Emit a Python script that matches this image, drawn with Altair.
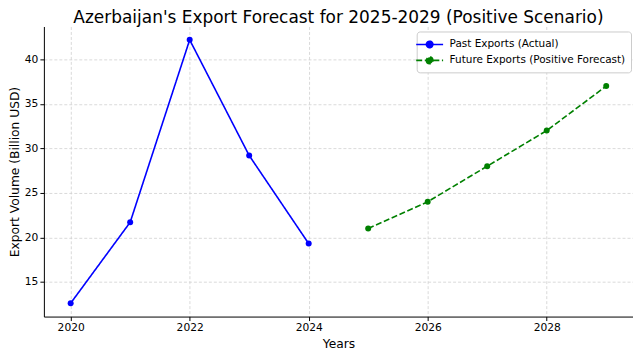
import altair as alt
import pandas as pd

past_years = [2020, 2021, 2022, 2023, 2024]
past_values = [12.6, 21.7, 42.2, 29.2, 19.3]
future_years = [2025, 2026, 2027, 2028, 2029]
future_values = [21.0, 24.0, 28.0, 32.0, 37.0]
series_names = ["Past Exports (Actual)", "Future Exports (Positive Forecast)"]
series_colors = ["#0000ff", "#008000"]
series_dashes = [[1, 0], [6, 2.6]]
x_ticks = [2020, 2022, 2024, 2026, 2028]
y_ticks = [15, 20, 25, 30, 35, 40]

df = pd.DataFrame({
    "Year": past_years + future_years,
    "Value": past_values + future_values,
    "Series": [series_names[0]] * len(past_years) + [series_names[1]] * len(future_years),
})

FONT = "DejaVu Sans"
symbol_path = "M-2,0L2,0M-0.48,0A0.48,0.48,0,1,0,0.48,0A0.48,0.48,0,1,0,-0.48,0Z"

legend = alt.Legend(
    title=None, orient="none", legendX=374, legendY=5,
    fillColor="white", strokeColor="#cccccc", cornerRadius=3, padding=5,
    labelFont=FONT, labelFontSize=10.5, labelColor="black", labelOffset=12,
    labelLimit=400,
    symbolType=symbol_path, symbolSize=182, symbolStrokeWidth=1.6,
    rowPadding=1,
)

x = alt.X("Year:Q", title="Years",
          scale=alt.Scale(domain=[2019.55, 2029.45], nice=False, zero=False),
          axis=alt.Axis(values=x_ticks, format="d"))
y = alt.Y("Value:Q", title="Export Volume (Billion USD)",
          scale=alt.Scale(domain=[11.1, 43.7], nice=False, zero=False),
          axis=alt.Axis(values=y_ticks))
color = alt.Color("Series:N", scale=alt.Scale(domain=series_names, range=series_colors), legend=legend)
dash = alt.StrokeDash("Series:N", scale=alt.Scale(domain=series_names, range=series_dashes), legend=legend)

base = alt.Chart(df).encode(x=x, y=y, color=color)
lines = base.mark_line(strokeWidth=1.6).encode(strokeDash=dash, detail="Series:N")
points = base.mark_circle(size=36, opacity=1)

chart = alt.layer(lines, points).properties(
    width=591, height=291,
    autosize=alt.AutoSizeParams(type="none"),
    padding={"left": 36, "top": 18, "right": 0, "bottom": 36},
    title=alt.Title("Azerbaijan's Export Forecast for 2025-2029 (Positive Scenario)",
                    font=FONT, fontSize=17, fontWeight="normal", color="black",
                    anchor="middle", offset=5, baseline="alphabetic", dy=18.5),
).configure_view(stroke=None).configure_axis(
    labelFont=FONT, labelFontSize=10.7, labelColor="black",
    titleFont=FONT, titleFontSize=12.3, titleFontWeight="normal", titleColor="black",
    domainColor="black", domainWidth=1, tickColor="black", tickSize=4, labelPadding=2,
    gridColor="#d0d0d0", gridDash=[3, 2], gridWidth=0.8,
).configure_axisX(titlePadding=5).configure_axisY(titlePadding=2.5)

chart.save("out.html", embed_options={"renderer": "svg", "actions": False})
